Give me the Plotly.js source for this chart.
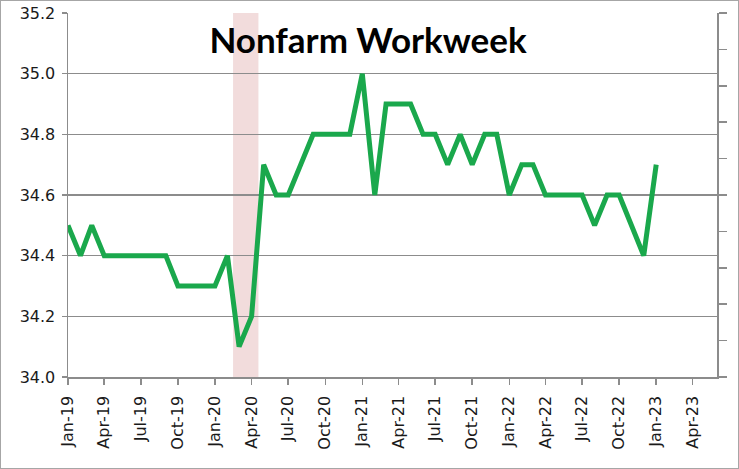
<!DOCTYPE html>
<html>
<head>
<meta charset="utf-8">
<script src="https://cdn.plot.ly/plotly-3.0.1.min.js"></script>
<style>
html,body{margin:0;padding:0;background:#fff;}
#chart{width:739px;height:469px;box-sizing:border-box;border:1px solid #a6a6a6;}
</style>
</head>
<body>
<div id="chart"></div>
<script>
// Monthly dates Jan-2019 .. Jan-2023
const months = [
 '2019-01-01','2019-02-01','2019-03-01','2019-04-01','2019-05-01','2019-06-01','2019-07-01','2019-08-01','2019-09-01','2019-10-01','2019-11-01','2019-12-01',
 '2020-01-01','2020-02-01','2020-03-01','2020-04-01','2020-05-01','2020-06-01','2020-07-01','2020-08-01','2020-09-01','2020-10-01','2020-11-01','2020-12-01',
 '2021-01-01','2021-02-01','2021-03-01','2021-04-01','2021-05-01','2021-06-01','2021-07-01','2021-08-01','2021-09-01','2021-10-01','2021-11-01','2021-12-01',
 '2022-01-01','2022-02-01','2022-03-01','2022-04-01','2022-05-01','2022-06-01','2022-07-01','2022-08-01','2022-09-01','2022-10-01','2022-11-01','2022-12-01',
 '2023-01-01'
];
// Average weekly hours, nonfarm payrolls
const workweek = [
 34.5,34.4,34.5,34.4,34.4,34.4,34.4,34.4,34.4,34.3,34.3,34.3,
 34.3,34.4,34.1,34.2,34.7,34.6,34.6,34.7,34.8,34.8,34.8,34.8,
 35.0,34.6,34.9,34.9,34.9,34.8,34.8,34.7,34.8,34.7,34.8,34.8,
 34.6,34.7,34.7,34.6,34.6,34.6,34.6,34.5,34.6,34.6,34.5,34.4,
 34.7
];
const recessionStart = '2020-02-15';
const recessionEnd = '2020-04-18';
const tickDates = ['2019-01-01','2019-04-01','2019-07-01','2019-10-01','2020-01-01','2020-04-01','2020-07-01','2020-10-01',
 '2021-01-01','2021-04-01','2021-07-01','2021-10-01','2022-01-01','2022-04-01','2022-07-01','2022-10-01','2023-01-01','2023-04-01'];
const tickLabels = ['Jan-19','Apr-19','Jul-19','Oct-19','Jan-20','Apr-20','Jul-20','Oct-20',
 'Jan-21','Apr-21','Jul-21','Oct-21','Jan-22','Apr-22','Jul-22','Oct-22','Jan-23','Apr-23'];
const yTicks = [34.0,34.2,34.4,34.6,34.8,35.0,35.2];
const yTickLabels = ['34.0','34.2','34.4','34.6','34.8','35.0','35.2'];

const axisGray = '#8c8c8c';
const tickFont = {family:'DejaVu Sans, Verdana, sans-serif', size:16, color:'#1a1a1a'};

const data = [{
  x: months, y: workweek, type:'scatter', mode:'lines',
  line:{color:'#1aa84c', width:5}, hoverinfo:'skip'
},{
  x: [], y: [], type:'scatter', mode:'lines', yaxis:'y2', hoverinfo:'skip'
}];

const layout = {
  width:737, height:467,
  margin:{l:67, r:21, t:12, b:91},
  paper_bgcolor:'#ffffff', plot_bgcolor:'#ffffff',
  showlegend:false,
  title:{text:'<b>Nonfarm Workweek</b>', x:0.498, xanchor:'center', y:0.915, yanchor:'middle',
         font:{family:'Lato, Calibri, sans-serif', size:35, color:'#000'}},
  xaxis:{type:'date', range:['2019-01-01','2023-06-01'],
    tickmode:'array', tickvals:tickDates, ticktext:tickLabels, tickangle:-90,
    ticks:'outside', ticklen:6, tickcolor:axisGray, tickwidth:1.5,
    showline:true, linecolor:axisGray, linewidth:1.5, showgrid:false, zeroline:false,
    ticklabelstandoff:5, tickfont:tickFont},
  yaxis:{range:[34.0,35.2], tickmode:'array', tickvals:yTicks, ticktext:yTickLabels,
    ticks:'outside', ticklen:5, tickcolor:axisGray, tickwidth:1.5,
    showline:true, linecolor:axisGray, linewidth:1.5,
    showgrid:true, gridcolor:axisGray, gridwidth:1.5, zeroline:false,
    ticklabelstandoff:3, tickfont:tickFont},
  yaxis2:{overlaying:'y', side:'right', range:[0,10], dtick:1, tick0:0,
    ticks:'outside', ticklen:8, tickcolor:axisGray, tickwidth:1.5,
    showline:true, linecolor:axisGray, linewidth:1.5,
    showgrid:false, zeroline:false, showticklabels:false},
  shapes:[{type:'rect', xref:'x', yref:'paper', x0:recessionStart, x1:recessionEnd, y0:0, y1:1,
    fillcolor:'#f2dcdc', line:{width:0}, layer:'below'}]
};

Plotly.newPlot('chart', data, layout, {displayModeBar:false, staticPlot:true});
</script>
</body>
</html>
